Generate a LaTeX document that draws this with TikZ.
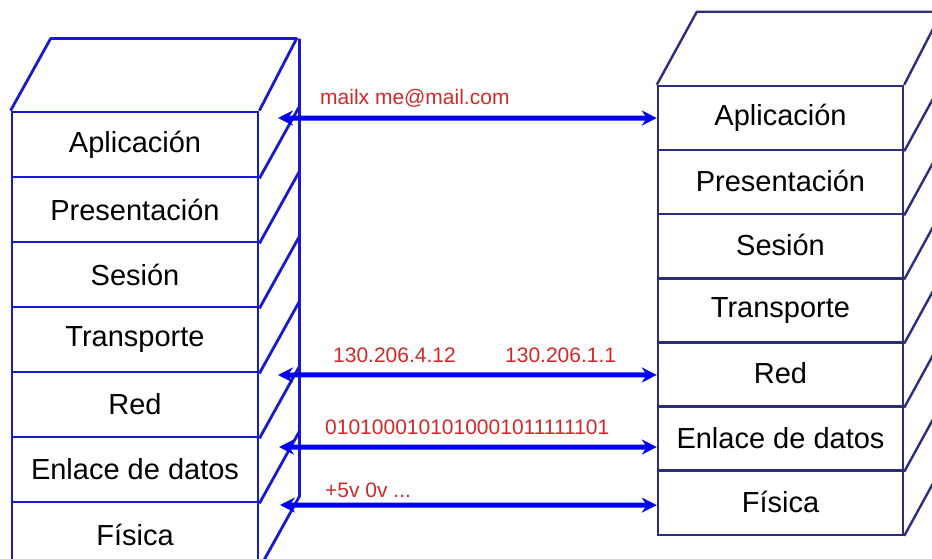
\documentclass[tikz,border=0pt]{standalone}
\usepackage{fontspec}
\setmainfont{Liberation Sans}
\usetikzlibrary{arrows.meta}
\definecolor{boxL}{RGB}{25,25,205}
\definecolor{boxR}{RGB}{45,45,125}
\definecolor{arrowc}{RGB}{0,0,240}
\definecolor{labred}{RGB}{210,40,40}
\tikzset{
  layerL/.style={draw=boxL, line width=2.8pt, rectangle, minimum width=246pt, minimum height=65pt, inner sep=0pt,
    font=\fontsize{29}{34}\selectfont},
  layerR/.style={draw=boxR, line width=2.4pt, rectangle, minimum width=245pt, minimum height=64.1pt, inner sep=0pt,
    font=\fontsize{29}{34}\selectfont},
  faceL/.style={draw=boxL, line width=2.8pt, line join=round},
  faceR/.style={draw=boxR, line width=2.4pt, line join=round},
  link/.style={draw=arrowc, line width=5pt, {Stealth[length=15pt,width=15pt,inset=5pt]}-{Stealth[length=15pt,width=15pt,inset=5pt]}},
  redlab/.style={text=labred, anchor=west, inner sep=0pt, font=\fontsize{21}{25}\selectfont}
}
\begin{document}
\begin{tikzpicture}[x=1pt,y=-1pt]
\clip (0,0) rectangle (932,559);
% left stack
\node[layerL] (L1) at (135,144.5) {Aplicación};
\node[layerL] (L2) at (135,209.5) {Presentación};
\node[layerL] (L3) at (135,274.5) {Sesión};
\node[layerL] (L4) at (135,339.5) {Transporte};
\node[layerL] (L5) at (135,404.5) {Red};
\node[layerL] (L6) at (135,469.5) {Enlace de datos};
\node[layerL] (L7) at (135,534.5) {Física};
\draw[faceL] (L1.north west) -- ++(40,-72) -- ++(246,0) -- (L1.north east);
\draw[faceL] ([shift={(40,-72)}]L1.north east) -- ([shift={(40,-72)}]L7.south east) -- (L7.south east);
\foreach \i in {1,...,6}{\draw[faceL] (L\i.south east) -- ++(40,-72);}
% right stack
\node[layerR] (R1) at (780.5,118.05) {\raisebox{2pt}{Aplicación}};
\node[layerR] (R2) at (780.5,182.15) {\raisebox{2pt}{Presentación}};
\node[layerR] (R3) at (780.5,246.25) {\raisebox{2pt}{Sesión}};
\node[layerR] (R4) at (780.5,310.35) {\raisebox{2pt}{Transporte}};
\node[layerR] (R5) at (780.5,374.45) {\raisebox{2pt}{Red}};
\node[layerR] (R6) at (780.5,438.55) {\raisebox{2pt}{Enlace de datos}};
\node[layerR] (R7) at (780.5,502.65) {\raisebox{2pt}{Física}};
\draw[faceR] (R1.north west) -- ++(40,-73) -- ++(245,0) -- (R1.north east);
\draw[faceR] ([shift={(40,-73)}]R1.north east) -- ([shift={(40,-73)}]R7.south east) -- (R7.south east);
\foreach \i in {1,...,6}{\draw[faceR] (R\i.south east) -- ++(40,-73);}
% links
\coordinate (a1) at (278,118);
\coordinate (a2) at (278,375);
\coordinate (a3) at (279,447);
\coordinate (a4) at (280,505);
\draw[link] (a1) -- (R1.west);
\draw[link] (a2) -- ([yshift=-0.5pt]R5.west);
\draw[link] (a3) -- ([yshift=-8.5pt]R6.west);
\draw[link] (a4) -- ([yshift=-2.5pt]R7.west);
% labels
\node[redlab] (t1) at (320,98) {mailx me@mail.com};
\node[redlab] (t2) at (333,355) {130.206.4.12};
\node[redlab] (t3) at (505,355) {130.206.1.1};
\node[redlab] (t4) at (325,427) {0101000101010001011111101};
\node[redlab] (t5) at (325,490) {+5v 0v ...};
\end{tikzpicture}
\end{document}
